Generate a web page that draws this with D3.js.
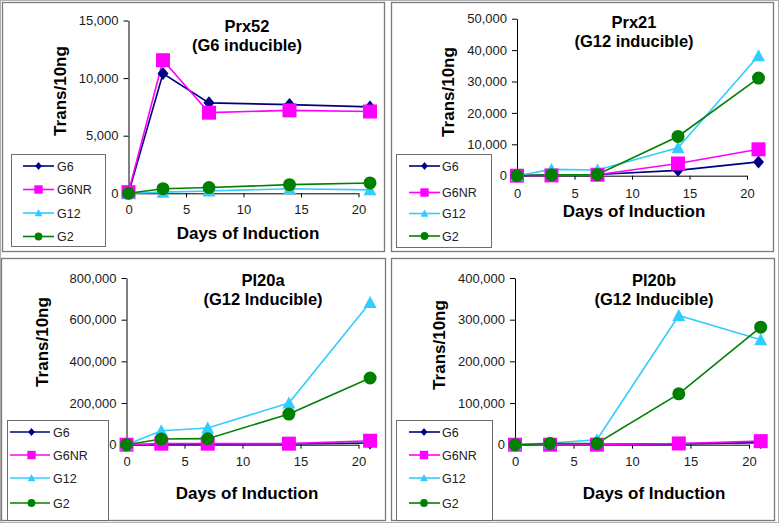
<!DOCTYPE html>
<html><head><meta charset="utf-8">
<script src="https://cdn.jsdelivr.net/npm/d3@7"></script>
<style>
html,body{margin:0;padding:0;background:#fff;}
svg{display:block;font-family:Arial,"Liberation Sans",sans-serif;}
</style></head>
<body>
<svg id="chart" width="779" height="523"></svg>
<script>
// ---------- data ----------
const days = [0, 3, 7, 14, 21];
const seriesNames = ["G6", "G6NR", "G12", "G2"];
const seriesColors = ["#000080", "#FF00FF", "#33CCFF", "#008000"];
const xTicks = [0, 5, 10, 15, 20];

const prx52Titles = ["Prx52", "(G6 inducible)"];
const prx52Ticks = [0, 5000, 10000, 15000];
const prx52G6   = [0, 10400, 7850, 7700, 7500];
const prx52G6NR = [100, 11550, 7000, 7200, 7100];
const prx52G12  = [0, 100, 200, 400, 300];
const prx52G2   = [0, 400, 500, 750, 900];

const prx21Titles = ["Prx21", "(G12 inducible)"];
const prx21Ticks = [0, 10000, 20000, 30000, 40000, 50000];
const prx21G6   = [0, 300, 400, 1700, 4400];
const prx21G6NR = [0, 100, 300, 3900, 8400];
const prx21G12  = [0, 2000, 1800, 8900, 38200];
const prx21G2   = [0, 300, 400, 12500, 31100];

const pl20aTitles = ["Pl20a", "(G12 Inducible)"];
const pl20aTicks = [0, 200000, 400000, 600000, 800000];
const pl20aG6   = [0, 2000, 3000, 4000, 8000];
const pl20aG6NR = [0, 5000, 5000, 5000, 19000];
const pl20aG12  = [0, 67000, 80000, 200000, 683000];
const pl20aG2   = [0, 27000, 29000, 147000, 320000];

const pl20bTitles = ["Pl20b", "(G12 Inducible)"];
const pl20bTicks = [0, 100000, 200000, 300000, 400000];
const pl20bG6   = [0, 1000, 1000, 2000, 5000];
const pl20bG6NR = [0, 0, 0, 3000, 8500];
const pl20bG12  = [0, 4000, 12000, 310000, 252000];
const pl20bG2   = [0, 3000, 3000, 122000, 282000];

// ---------- layout (per panel) ----------
const panels = [
  { titles: prx52Titles, ticks: prx52Ticks, values: [prx52G6, prx52G6NR, prx52G12, prx52G2],
    box: [2.5, 2.5, 382, 249], x0: 128.5, perDay: 11.5, y0: 193.3, yTop: 20.5,
    titleX: 247, titleY: [32, 51], yLabX: 66, yLabY: 91, xLabX: 248, xLabY: 239, xTickY: 214,
    legend: { box: [11.5, 154.5, 94, 92], lineX: [23, 54], mX: 38.5, tX: 57, ys: [166, 189.5, 213, 236.5] } },
  { titles: prx21Titles, ticks: prx21Ticks, values: [prx21G6, prx21G6NR, prx21G12, prx21G2],
    box: [391.5, 2.5, 382, 249], x0: 517, perDay: 11.5, y0: 175.7, yTop: 18.7,
    titleX: 634, titleY: [28, 47], yLabX: 454, yLabY: 92, xLabX: 634, xLabY: 217, xTickY: 198,
    legend: { box: [396.5, 154.5, 95, 93], lineX: [409, 440], mX: 424.5, tX: 442, ys: [166, 192.5, 213.5, 236] } },
  { titles: pl20aTitles, ticks: pl20aTicks, values: [pl20aG6, pl20aG6NR, pl20aG12, pl20aG2],
    box: [1.5, 258.5, 384, 262], x0: 126.5, perDay: 11.6, y0: 444.7, yTop: 278,
    titleX: 263, titleY: [286, 305], yLabX: 48, yLabY: 342, xLabX: 247, xLabY: 499, xTickY: 466,
    legend: { box: [7.5, 420.5, 101, 100], lineX: [10, 50], mX: 31.5, tX: 53, ys: [432, 455, 478, 503] } },
  { titles: pl20bTitles, ticks: pl20bTicks, values: [pl20bG6, pl20bG6NR, pl20bG12, pl20bG2],
    box: [391.5, 258.5, 383, 262], x0: 515, perDay: 11.7, y0: 444.7, yTop: 278,
    titleX: 654, titleY: [286, 305], yLabX: 445, yLabY: 345, xLabX: 654, xLabY: 499, xTickY: 466,
    legend: { box: [396.5, 420.5, 96, 100], lineX: [409, 440], mX: 424, tX: 442, ys: [432, 455, 478, 503] } }
];

const svg = d3.select("#chart");
svg.append("rect").attr("x", 0.5).attr("y", 0.5).attr("width", 778).attr("height", 522)
  .attr("fill", "#fff").attr("stroke", "#b0b0b0");

function marker(g, idx, cx, cy, s) {
  const c = seriesColors[idx];
  if (idx === 0) {
    const w = 5.5 * s, h = 6.5 * s;
    g.append("path").attr("d", `M${cx},${cy - h}L${cx + w},${cy}L${cx},${cy + h}L${cx - w},${cy}Z`).attr("fill", c);
  } else if (idx === 1) {
    const a = 7 * s;
    g.append("rect").attr("x", cx - a).attr("y", cy - a).attr("width", 2 * a).attr("height", 2 * a).attr("fill", c);
  } else if (idx === 2) {
    const w = 6.5 * s, h = 6.5 * s;
    g.append("path").attr("d", `M${cx},${cy - h}L${cx + w},${cy + h * 0.85}L${cx - w},${cy + h * 0.85}Z`).attr("fill", c);
  } else {
    g.append("circle").attr("cx", cx).attr("cy", cy).attr("r", 6.5 * s).attr("fill", c);
  }
}

panels.forEach(p => {
  const g = svg.append("g");
  g.append("rect").attr("x", p.box[0]).attr("y", p.box[1]).attr("width", p.box[2]).attr("height", p.box[3])
    .attr("fill", "#fff").attr("stroke", "#7a7a7a").attr("stroke-width", 1.3);

  const yMax = p.ticks[p.ticks.length - 1];
  const x = d3.scaleLinear().domain([0, 20]).range([p.x0, p.x0 + 20 * p.perDay]);
  const y = d3.scaleLinear().domain([0, yMax]).range([p.y0, p.yTop]);

  // y axis
  const yAxis = d3.axisLeft(y).tickValues(p.ticks).tickFormat(d3.format(",")).tickSize(5).tickSizeOuter(0).tickPadding(5);
  const ya = g.append("g").attr("transform", `translate(${p.x0},0)`).call(yAxis);
  ya.selectAll("text").attr("font-size", 13).attr("fill", "#1a1a1a").attr("font-family", "Arial, 'Liberation Sans', sans-serif");
  ya.selectAll("line,path").attr("stroke", "#000").attr("stroke-width", 1);

  // x axis
  const xAxis = d3.axisBottom(x).tickValues(xTicks).tickSize(4).tickSizeOuter(0).tickFormat(d3.format("d"));
  const xa = g.append("g").attr("transform", `translate(0,${p.y0})`).call(xAxis);
  xa.select(".domain").attr("stroke", "#000").attr("stroke-width", 1);
  xa.selectAll("line").attr("stroke", "#000");
  xa.selectAll("text").attr("font-size", 13).attr("fill", "#1a1a1a").attr("y", null).attr("dy", null)
    .attr("font-family", "Arial, 'Liberation Sans', sans-serif")
    .attr("transform", `translate(0,${p.xTickY - p.y0})`);

  // series
  p.values.forEach((vals, si) => {
    const line = d3.line().x((d, i) => x(days[i])).y(d => y(d));
    g.append("path").datum(vals).attr("d", line).attr("fill", "none")
      .attr("stroke", seriesColors[si]).attr("stroke-width", 1.6);
  });
  p.values.forEach((vals, si) => {
    vals.forEach((v, i) => marker(g, si, x(days[i]), y(v), 1));
  });

  // titles
  p.titles.forEach((t, i) => {
    g.append("text").attr("x", p.titleX).attr("y", p.titleY[i]).attr("text-anchor", "middle")
      .attr("font-size", 16.5).attr("font-weight", "bold").attr("fill", "#000").text(t);
  });
  g.append("text").attr("transform", `translate(${p.yLabX},${p.yLabY}) rotate(-90)`).attr("text-anchor", "middle")
    .attr("font-size", 17).attr("font-weight", "bold").attr("fill", "#000").text("Trans/10ng");
  g.append("text").attr("x", p.xLabX).attr("y", p.xLabY).attr("text-anchor", "middle")
    .attr("font-size", 17).attr("font-weight", "bold").attr("fill", "#000").text("Days of Induction");

  // legend
  const L = p.legend;
  const lg = g.append("g");
  lg.append("rect").attr("x", L.box[0]).attr("y", L.box[1]).attr("width", L.box[2]).attr("height", L.box[3])
    .attr("fill", "#fff").attr("stroke", "#6e6e6e").attr("stroke-width", 1);
  seriesNames.forEach((n, si) => {
    const yy = L.ys[si];
    lg.append("line").attr("x1", L.lineX[0]).attr("x2", L.lineX[1]).attr("y1", yy).attr("y2", yy)
      .attr("stroke", seriesColors[si]).attr("stroke-width", 1.6);
    marker(lg, si, L.mX, yy, 0.6);
    lg.append("text").attr("x", L.tX).attr("y", yy + 4.5).attr("font-size", 12.5).attr("fill", "#222").text(n);
  });
});
</script>
</body></html>
